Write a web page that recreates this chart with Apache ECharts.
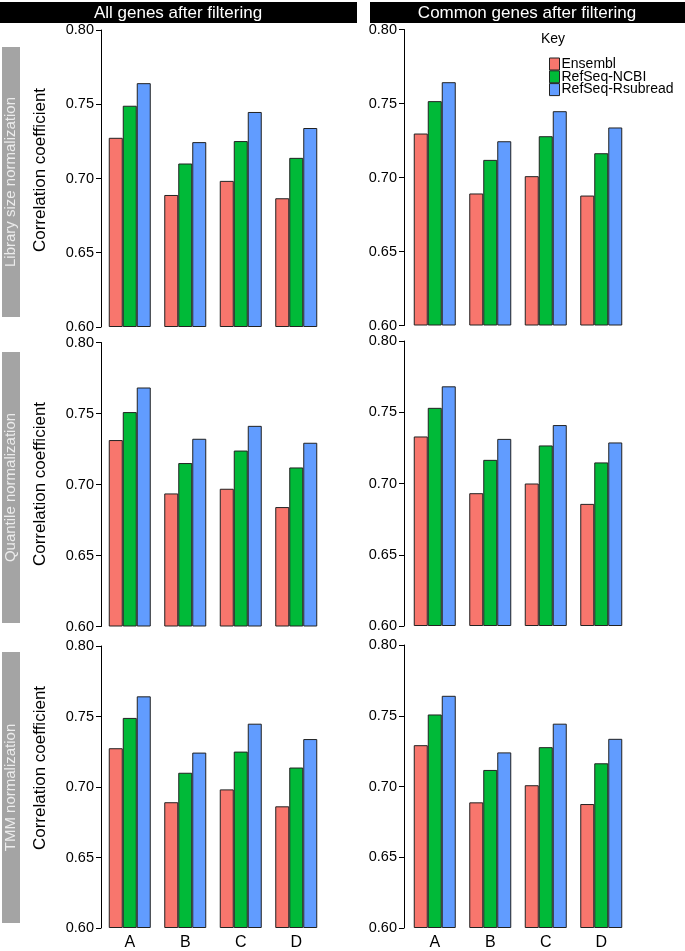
<!DOCTYPE html>
<html>
<head>
<meta charset="utf-8">
<script src="https://cdn.jsdelivr.net/npm/echarts@6/dist/echarts.min.js"></script>
<style>
  html, body { margin: 0; padding: 0; background: #fff; }
  #chart { width: 685px; height: 951px; }
</style>
</head>
<body>
<div id="chart"></div>
<script>
// ---------- data ----------
const categories = ['A', 'B', 'C', 'D'];
const seriesNames = ['Ensembl', 'RefSeq-NCBI', 'RefSeq-Rsubread'];
const columnTitles = ['All genes after filtering', 'Common genes after filtering'];
const rowTitles = ['Library size normalization', 'Quantile normalization', 'TMM normalization'];
const yAxisTitle = 'Correlation coefficient';
const legendTitle = 'Key';
const yTickValues = [0.60, 0.65, 0.70, 0.75, 0.80];

// Library size normalization
const libAllEnsembl = [0.7274, 0.6889, 0.6984, 0.6867];
const libAllNCBI = [0.7490, 0.7101, 0.7252, 0.7139];
const libAllRsubread = [0.7642, 0.7245, 0.7448, 0.7340];
const libCommonEnsembl = [0.7297, 0.6892, 0.7009, 0.6878];
const libCommonNCBI = [0.7516, 0.7119, 0.7279, 0.7164];
const libCommonRsubread = [0.7644, 0.7245, 0.7448, 0.7338];
// Quantile normalization
const quantAllEnsembl = [0.7313, 0.6937, 0.6970, 0.6841];
const quantAllNCBI = [0.7510, 0.7151, 0.7239, 0.7120];
const quantAllRsubread = [0.7683, 0.7322, 0.7413, 0.7294];
const quantCommonEnsembl = [0.7330, 0.6932, 0.7000, 0.6857];
const quantCommonNCBI = [0.7531, 0.7166, 0.7267, 0.7148];
const quantCommonRsubread = [0.7682, 0.7313, 0.7410, 0.7288];
// TMM normalization
const tmmAllEnsembl = [0.7275, 0.6892, 0.6983, 0.6863];
const tmmAllNCBI = [0.7490, 0.7101, 0.7251, 0.7138];
const tmmAllRsubread = [0.7643, 0.7244, 0.7449, 0.7340];
const tmmCommonEnsembl = [0.7292, 0.6888, 0.7009, 0.6876];
const tmmCommonNCBI = [0.7509, 0.7117, 0.7278, 0.7164];
const tmmCommonRsubread = [0.7641, 0.7241, 0.7444, 0.7337];

// ---------- layout / style ----------
const colors = ['#F8766D', '#00BA38', '#619CFF'];
const FONT = "'Liberation Sans', Arial, Helvetica, sans-serif";

const panels = [
  { data: [libAllEnsembl, libAllNCBI, libAllRsubread], left: 102, top: 30, height: 297, offset: 1, yName: 170, xLabels: false },
  { data: [libCommonEnsembl, libCommonNCBI, libCommonRsubread], left: 407, top: 29.5, height: 296, offset: 3, xLabels: false },
  { data: [quantAllEnsembl, quantAllNCBI, quantAllRsubread], left: 102, top: 342.5, height: 284, offset: 1, yName: 484, xLabels: false },
  { data: [quantCommonEnsembl, quantCommonNCBI, quantCommonRsubread], left: 407, top: 341, height: 285, offset: 3, xLabels: false },
  { data: [tmmAllEnsembl, tmmAllNCBI, tmmAllRsubread], left: 102, top: 646, height: 284, offset: 1, yName: 768, xLabels: true },
  { data: [tmmCommonEnsembl, tmmCommonNCBI, tmmCommonRsubread], left: 407, top: 645, height: 285, offset: 3, xLabels: true }
];

const grid = [], xAxis = [], yAxis = [], series = [];
panels.forEach((p, i) => {
  grid.push({ left: p.left, top: p.top, width: 222, height: p.height, containLabel: false });
  xAxis.push({
    type: 'category', gridIndex: i, data: categories,
    axisLine: { show: false }, axisTick: { show: false },
    axisLabel: { show: p.xLabels, fontSize: 16, color: '#000', margin: 7, fontFamily: FONT }
  });
  yAxis.push({
    type: 'value', gridIndex: i,
    min: yTickValues[0], max: yTickValues[yTickValues.length - 1], interval: 0.05,
    startValue: yTickValues[0],
    offset: p.offset,
    splitLine: { show: false },
    axisLine: { show: true, lineStyle: { color: '#000', width: 1 } },
    axisTick: { show: true, length: 5, lineStyle: { color: '#000' } },
    axisLabel: { fontSize: 14.5, color: '#000', margin: 7, fontFamily: FONT,
                 formatter: v => Number(v).toFixed(2) }
  });
  p.data.forEach((vals, k) => {
    series.push({
      type: 'bar', name: seriesNames[k], xAxisIndex: i, yAxisIndex: i,
      data: vals, barWidth: 14, barGap: '0%',
      itemStyle: { color: colors[k], borderColor: '#222', borderWidth: 1 }
    });
  });
});

const graphic = [];
// column header bars
const headerBoxes = [ { x: 0, w: 357, cx: 178 }, { x: 370, w: 315, cx: 527 } ];
headerBoxes.forEach((h, i) => {
  graphic.push({ type: 'rect', shape: { x: h.x, y: 2, width: h.w, height: 21 }, style: { fill: '#000' } });
  graphic.push({ type: 'text', x: h.cx, y: 13,
    style: { text: columnTitles[i], fill: '#fff', font: '17px ' + FONT, textAlign: 'center', textVerticalAlign: 'middle' } });
});
// row label boxes
const rowBoxes = [ { y: 47, h: 270 }, { y: 352, h: 271 }, { y: 652, h: 271 } ];
rowBoxes.forEach((b, i) => {
  graphic.push({ type: 'rect', shape: { x: 2, y: b.y, width: 18, height: b.h }, style: { fill: '#a4a4a4' } });
  graphic.push({ type: 'text', x: 11, y: b.y + b.h / 2, rotation: Math.PI / 2,
    style: { text: rowTitles[i], fill: '#ececec', font: '15px ' + FONT, textAlign: 'center', textVerticalAlign: 'middle' } });
});
// y-axis titles (left column)
panels.forEach(p => {
  if (p.yName !== undefined) {
    graphic.push({ type: 'text', x: 40, y: p.yName, rotation: Math.PI / 2,
      style: { text: yAxisTitle, fill: '#000', font: '17px ' + FONT, textAlign: 'center', textVerticalAlign: 'middle' } });
  }
});

const option = {
  animation: false,
  backgroundColor: '#fff',
  textStyle: { fontFamily: FONT },
  title: {
    text: legendTitle, left: 541, top: 32, padding: 0,
    textStyle: { fontSize: 14, fontWeight: 'normal', color: '#000', fontFamily: FONT }
  },
  legend: {
    data: seriesNames, orient: 'vertical', left: 549, top: 57,
    itemWidth: 10, itemHeight: 12, itemGap: -1.2, padding: 0,
    icon: 'rect',
    itemStyle: { borderColor: '#222', borderWidth: 1 },
    textStyle: { fontSize: 14, color: '#000', lineHeight: 12, fontFamily: FONT, padding: [0, 0, 0, -3] },
    selectedMode: false
  },
  grid, xAxis, yAxis, series, graphic
};

const chart = echarts.init(document.getElementById('chart'), null, { renderer: 'canvas' });
chart.setOption(option);
</script>
</body>
</html>
